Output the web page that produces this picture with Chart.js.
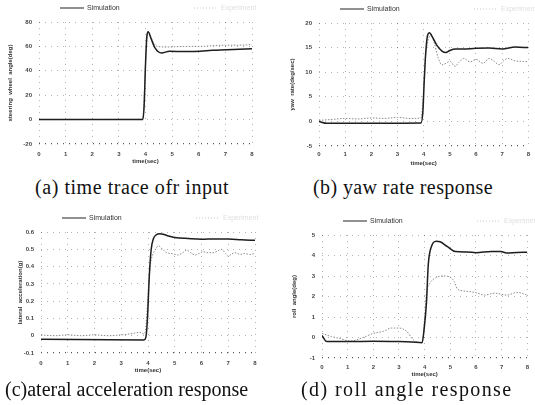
<!DOCTYPE html>
<html>
<head>
<meta charset="utf-8">
<script src="https://cdn.jsdelivr.net/npm/chart.js@4.4.0/dist/chart.umd.min.js"></script>
<style>
  html, body { margin: 0; padding: 0; background: #fff; }
  #figure { position: relative; width: 535px; height: 405px; overflow: hidden; }
  #figure canvas { position: absolute; }
  .caption {
    position: absolute;
    font-family: "Liberation Serif", "DejaVu Serif", serif;
    font-size: 20px;
    line-height: 20px;
    color: #111;
    white-space: nowrap;
  }
</style>
</head>
<body>
<div id="figure">
  <canvas id="chartA" width="265" height="172" style="left:0;top:0"></canvas>
  <canvas id="chartB" width="270" height="172" style="left:265px;top:0"></canvas>
  <canvas id="chartC" width="265" height="180" style="left:0;top:200px"></canvas>
  <canvas id="chartD" width="270" height="180" style="left:265px;top:200px"></canvas>
  <div class="caption" style="left:35px;top:177px;letter-spacing:0.55px">(a) time trace ofr input</div>
  <div class="caption" style="left:313px;top:177px;letter-spacing:0.4px">(b) yaw rate response</div>
  <div class="caption" style="left:5px;top:379px">(c)ateral acceleration response</div>
  <div class="caption" style="left:301px;top:379px;letter-spacing:1.4px">(d) roll angle response</div>
</div>

<script>
// ---- data ----
const timeTicks = [0, 1, 2, 3, 4, 5, 6, 7, 8];

// (a) steering wheel angle
const yTicksA = [-20, 0, 20, 40, 60, 80];
const timeSimA = [0, 3.9, 3.95, 4.0, 4.05, 4.1, 4.2, 4.35, 4.6, 4.9, 5.5, 6.05, 6.5, 6.8, 7.3, 8.0];
const simA = [0, 0, 12, 45, 68, 72, 67, 59, 54.6, 56, 55.8, 56, 56.8, 57, 57.5, 58];
const timeExpA = [0, 3.85, 3.92, 3.98, 4.05, 4.1, 4.2, 4.3, 4.45, 4.8, 5.5, 6.0, 6.5, 7.0, 7.5, 8.0];
const expA = [0, 0.3, 5, 35, 66, 72, 68, 63, 60, 59.5, 60, 60, 60.5, 61, 61, 61.5];

// (b) yaw rate
const yTicksB = [-5, 0, 5, 10, 15, 20];
const timeSimB = [0, 0.3, 3.9, 3.97, 4.02, 4.08, 4.15, 4.22, 4.35, 4.5, 4.7, 4.85, 5.0, 5.2, 5.5, 6.0, 6.5, 7.0, 7.5, 8.0];
const simB = [0, -0.4, -0.3, 2, 8, 14, 17.5, 18, 17, 15.5, 14.3, 14.0, 14.4, 14.7, 14.7, 14.85, 14.9, 14.7, 15.1, 15.0];
const timeExpB = [0, 0.5, 1.0, 1.5, 2.0, 2.5, 3.0, 3.5, 3.9, 3.97, 4.05, 4.15, 4.28, 4.4, 4.55, 4.7, 4.85, 5.0, 5.2, 5.35, 5.53, 5.77, 6.0, 6.27, 6.5, 6.7, 6.88, 7.05, 7.2, 7.5, 7.8, 8.0];
const expB = [0.2, 0.4, 0.6, 0.5, 0.7, 0.6, 0.8, 0.6, 0.7, 4, 12, 16, 17.6, 16, 13, 11.5, 11.8, 12.2, 11.2, 12, 12.8, 12.1, 12.6, 11.8, 12.8, 12.2, 11.5, 12.3, 12.8, 12.3, 12.2, 12.1];

// (c) lateral acceleration
const yTicksC = [-0.1, 0, 0.1, 0.2, 0.3, 0.4, 0.5, 0.6];
const timeSimC = [0, 3.85, 3.92, 3.98, 4.05, 4.12, 4.2, 4.3, 4.45, 4.6, 4.8, 5.0, 5.5, 6.0, 6.5, 7.0, 7.5, 8.0];
const simC = [-0.02, -0.025, -0.01, 0.1, 0.35, 0.5, 0.56, 0.583, 0.59, 0.585, 0.575, 0.568, 0.562, 0.558, 0.56, 0.56, 0.555, 0.552];
const timeExpC = [0, 0.5, 1.0, 1.5, 2.0, 2.5, 3.0, 3.3, 3.5, 3.7, 3.85, 3.92, 3.98, 4.04, 4.1, 4.18, 4.28, 4.39, 4.55, 4.7, 4.9, 5.13, 5.3, 5.45, 5.6, 5.76, 5.9, 6.06, 6.25, 6.43, 6.6, 6.75, 6.9, 7.0, 7.1, 7.25, 7.45, 7.6, 7.8, 8.0];
const expC = [0.005, 0, 0.005, 0, 0.005, 0, 0.005, 0.01, 0.015, 0.02, 0.01, 0.05, 0.18, 0.33, 0.42, 0.47, 0.5, 0.52, 0.5, 0.48, 0.475, 0.467, 0.48, 0.495, 0.48, 0.467, 0.475, 0.486, 0.48, 0.48, 0.49, 0.5, 0.475, 0.46, 0.47, 0.48, 0.47, 0.476, 0.47, 0.476];

// (d) roll angle
const yTicksD = [-1, 0, 1, 2, 3, 4, 5];
const timeSimD = [0, 0.18, 0.5, 1.0, 2.0, 3.0, 3.5, 3.9, 3.97, 4.07, 4.14, 4.26, 4.45, 4.6, 4.89, 5.2, 5.65, 6.0, 6.6, 6.97, 7.2, 7.6, 8.0];
const simD = [0.1, -0.2, -0.2, -0.2, -0.18, -0.2, -0.22, -0.25, 0.3, 1.7, 3.54, 4.43, 4.7, 4.67, 4.43, 4.19, 4.17, 4.14, 4.2, 4.19, 4.12, 4.15, 4.16];
const timeExpD = [0, 0.38, 0.7, 1.1, 1.6, 2.0, 2.4, 2.7, 3.0, 3.3, 3.56, 3.9, 4.0, 4.07, 4.2, 4.4, 4.7, 4.95, 5.15, 5.27, 5.53, 5.96, 6.34, 6.72, 7.2, 7.6, 8.0];
const expD = [0.2, 0.04, -0.05, -0.17, 0.0, 0.2, 0.3, 0.46, 0.46, 0.3, -0.12, -0.25, 1.0, 2.16, 2.64, 2.89, 3.0, 2.97, 2.73, 2.37, 2.27, 2.2, 2.07, 2.16, 2.07, 2.2, 2.07];

const legendLabels = ['Simulation', 'Experiment'];

// ---- shared styling ----
const TICK_FONT = { family: '"Liberation Sans", Arial, sans-serif', size: 6, weight: 'bold' };
const GRID_COLOR = 'rgba(0, 0, 0, 0.3)';
const pairs = (ts, vs) => ts.map((t, i) => ({ x: t, y: vs[i] }));

// small legend above each plot, placed like in the paper
const paperLegend = {
    id: 'paperLegend',
    afterDraw(chart) {
        const { ctx, chartArea } = chart;
        const y = chartArea.top - 14;
        chart.data.datasets.forEach((ds, i) => {
            const x = chartArea.left + (i === 0 ? 21 : 155);
            ctx.save();
            ctx.strokeStyle = i === 0 ? '#222' : '#c8c8c8';
            ctx.lineWidth = 1;
            ctx.setLineDash(i === 0 ? [] : [1, 2]);
            ctx.beginPath();
            ctx.moveTo(x, y);
            ctx.lineTo(x + 24, y);
            ctx.stroke();
            ctx.setLineDash([]);
            ctx.fillStyle = i === 0 ? '#333' : '#e0e0e0';
            ctx.font = '7px "Liberation Sans", Arial, sans-serif';
            ctx.textBaseline = 'middle';
            ctx.fillText(ds.label, x + 27, y);
            ctx.restore();
        });
    },
};

function makePanel(id, p) {
    const canvas = document.getElementById(id);
    const W = canvas.width, H = canvas.height;
    const padL = 2, padB = 2;
    const yMin = p.yTicks[0];
    return new Chart(canvas.getContext('2d'), {
        type: 'line',
        data: {
            datasets: [
                {
                    label: legendLabels[0],
                    data: pairs(p.tSim, p.sim),
                    borderColor: '#1e1e1e',
                    borderWidth: 1.5,
                    pointRadius: 0,
                    cubicInterpolationMode: 'monotone',
                },
                {
                    label: legendLabels[1],
                    data: pairs(p.tExp, p.exp),
                    borderColor: '#8a8a8a',
                    borderWidth: 1,
                    borderDash: [1.5, 1.5],
                    pointRadius: 0,
                    cubicInterpolationMode: 'monotone',
                },
            ],
        },
        options: {
            responsive: false,
            animation: false,
            devicePixelRatio: 1,
            layout: {
                padding: { left: padL, top: p.area[1], right: W - p.area[2], bottom: padB },
            },
            plugins: {
                legend: { display: false },
                tooltip: { enabled: false },
            },
            scales: {
                x: {
                    type: 'linear',
                    min: timeTicks[0],
                    max: timeTicks[timeTicks.length - 1],
                    afterBuildTicks: s => { s.ticks = timeTicks.map(v => ({ value: v })); },
                    afterFit: s => { s.height = (H - padB) - p.area[3]; },
                    ticks: { font: TICK_FONT, color: '#444', padding: p.xTickPad, maxRotation: 0 },
                    grid: { color: GRID_COLOR, drawTicks: false },
                    border: { display: false, dash: [1, 5] },
                    title: {
                        display: true,
                        text: 'time(sec)',
                        font: TICK_FONT,
                        color: '#333',
                        padding: { top: 0, bottom: (H - padB) - 3.6 - p.xTitleY },
                    },
                },
                y: {
                    min: yMin,
                    max: p.yTicks[p.yTicks.length - 1],
                    afterBuildTicks: s => { s.ticks = p.yTicks.map(v => ({ value: v })); },
                    afterFit: s => { s.width = p.area[0] - padL; },
                    ticks: { font: TICK_FONT, color: '#444', padding: 7 },
                    grid: {
                        drawTicks: false,
                        // the lowest line is the darker base line of the paper's plots
                        color: c => (c.tick && c.tick.value === yMin ? '#555' : GRID_COLOR),
                        lineWidth: c => (c.tick && c.tick.value === yMin ? 1.2 : 1),
                    },
                    border: { display: false, dash: [1, 5] },
                    title: {
                        display: true,
                        text: p.yTitle,
                        font: TICK_FONT,
                        color: '#333',
                        padding: { top: p.yTitleX - padL - 3.6, bottom: 0 },
                    },
                },
            },
        },
        plugins: [paperLegend],
    });
}

makePanel('chartA', {
    area: [39, 22, 252, 144], yTicks: yTicksA, yTitle: 'steering  wheel  angle(deg)',
    tSim: timeSimA, sim: simA, tExp: timeExpA, exp: expA,
    yTitleX: 10, xTickPad: 7, xTitleY: 161,
});
makePanel('chartB', {
    area: [54, 23, 268, 146], yTicks: yTicksB, yTitle: 'yaw  rate(deg/sec)',
    tSim: timeSimB, sim: simB, tExp: timeExpB, exp: expB,
    yTitleX: 27, xTickPad: 5, xTitleY: 163,
});
makePanel('chartC', {
    area: [41, 32, 255, 153], yTicks: yTicksC, yTitle: 'lateral  acceleration(g)',
    tSim: timeSimC, sim: simC, tExp: timeExpC, exp: expC,
    yTitleX: 20, xTickPad: 7, xTitleY: 170,
});
makePanel('chartD', {
    area: [57, 35, 269, 158], yTicks: yTicksD, yTitle: 'roll  angle(deg)',
    tSim: timeSimD, sim: simD, tExp: timeExpD, exp: expD,
    yTitleX: 29, xTickPad: 6, xTitleY: 174,
});
</script>
</body>
</html>
